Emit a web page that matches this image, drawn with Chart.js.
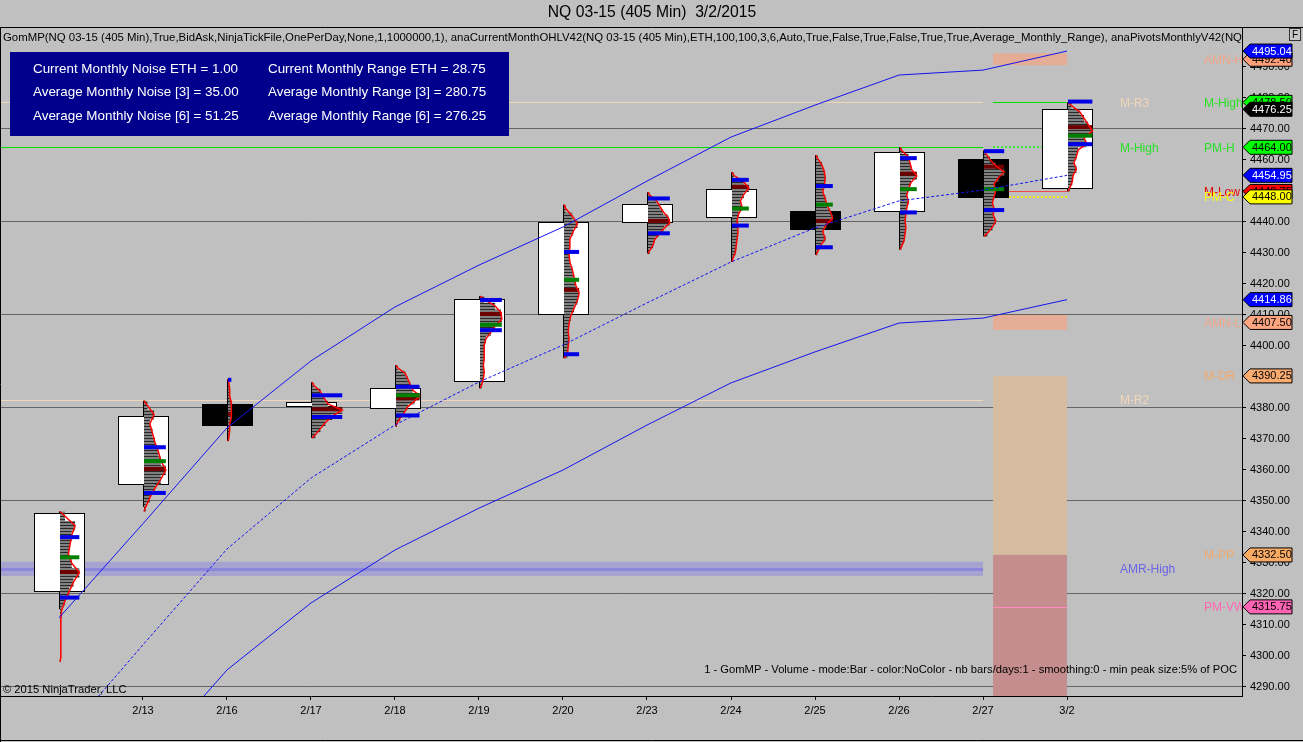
<!DOCTYPE html>
<html>
<head>
<meta charset="utf-8">
<title>NQ 03-15 (405 Min)  3/2/2015</title>
<script src="https://cdn.jsdelivr.net/npm/chart.js@4.4.1/dist/chart.umd.min.js"></script>
<style>
  html, body { margin: 0; padding: 0; background: #c0c0c0; overflow: hidden; }
  canvas { display: block; }
</style>
</head>
<body>
<canvas id="nqChart" width="1303" height="742"></canvas>
<script>
// NQ 03-15, one 405 minute bar per session
const dates  = ['2/12', '2/13', '2/16', '2/17', '2/18', '2/19', '2/20', '2/23', '2/24', '2/25', '2/26', '2/27', '3/2'];
const opens  = [4320.75, 4355.25, 4381.25, 4380.50, 4380.00, 4388.50, 4410.25, 4440.00, 4441.50, 4443.50, 4443.50, 4460.25, 4450.75];
const highs  = [4346.50, 4382.25, 4389.25, 4388.25, 4393.75, 4416.00, 4445.50, 4449.50, 4456.00, 4461.50, 4464.00, 4463.00, 4478.50];
const lows   = [4315.00, 4348.00, 4369.25, 4370.25, 4374.00, 4386.25, 4396.00, 4429.75, 4427.00, 4429.25, 4431.00, 4435.25, 4449.75];
const closes = [4346.00, 4377.25, 4374.50, 4381.75, 4386.25, 4415.00, 4439.75, 4445.75, 4450.50, 4437.75, 4462.50, 4448.00, 4476.25];

// volume profile range can run past the bar's low (tick data outside session)
const profileLows = [4298.00, 4346.50, 4369.25, 4370.25, 4374.00, 4386.25, 4396.00, 4429.75, 4427.00, 4429.25, 4431.00, 4435.25, 4449.75];

// GomMP volume per price row, top (high) to bottom (low), thousands of contracts
const vp0212 = [6, 18, 14, 12, 10, 14, 23, 16, 11, 6, 2, 1, 1, 1, 1, 1];
const vp0213 = [4, 12, 7, 10, 13, 17, 20, 26, 20, 13, 7, 2];
const vp0216 = [1, 2, 2, 4, 4, 4, 2, 2, 1];
const vp0217 = [2, 10, 14, 19, 36, 24, 16, 10, 4];
const vp0218 = [2, 11, 14, 17, 20, 28, 22, 14, 10, 5, 1];
const vp0219 = [5, 18, 25, 26, 18, 13, 7, 5, 5, 5, 4, 5, 4, 2];
const vp0220 = [2, 10, 16, 11, 7, 7, 6, 7, 10, 12, 14, 18, 16, 12, 8, 6, 5, 6, 5, 4];
const vp0223 = [2, 10, 14, 18, 24, 26, 19, 13, 8, 6, 2];
const vp0224 = [2, 14, 20, 14, 10, 12, 8, 6, 7, 7, 6, 5, 4, 1];
const vp0225 = [2, 7, 10, 11, 10, 8, 11, 13, 17, 20, 12, 8, 11, 6, 2];
const vp0226 = [2, 10, 12, 14, 20, 13, 10, 8, 10, 8, 7, 6, 7, 6, 5, 2];
const vp0227 = [2, 7, 14, 24, 17, 12, 14, 12, 10, 12, 11, 14, 10, 4];
const vp0302 = [4, 14, 19, 24, 29, 19, 22, 12, 10, 7, 10, 6, 5, 2];

const pocPrices    = [4327.00, 4360.25, 4378.00, 4379.50, 4383.00, 4410.25, 4418.00, 4440.25, 4451.25, 4440.25, 4455.50, 4457.75, 4470.50];
const greenPrices  = [4331.75, 4362.75, null, null, 4384.00, 4406.75, 4421.25, null, 4444.25, 4445.50, 4450.50, 4450.50, 4467.75];
const blueHiPrices = [4338.25, 4367.25, 4389.00, 4384.00, 4386.75, 4414.75, 4430.25, 4447.50, 4453.50, 4451.50, 4460.50, 4462.75, 4478.75];
const blueLoPrices = [4318.75, 4352.50, null, 4377.00, 4377.50, 4405.00, 4397.25, 4436.25, 4438.75, 4431.75, 4443.00, 4443.75, 4465.00];

// envelope lines
const upperBand  = [4312.20, 4342.60, 4373.50, 4395.10, 4412.50, 4426.00, 4438.30, 4453.10, 4467.30, 4477.60, 4487.30, 4488.90, 4495.04];
const middleBand = [4272.20, 4303.50, 4334.40, 4357.30, 4374.40, 4388.30, 4400.20, 4413.80, 4427.00, 4438.00, 4446.70, 4450.20, 4454.95];
const lowerBand  = [4234.00, 4264.70, 4295.40, 4317.00, 4334.10, 4347.60, 4359.90, 4374.40, 4388.00, 4398.00, 4407.30, 4408.90, 4414.86];

// previous month (Feb) levels
const prevLevelNames  = ['M-R3', 'M-High', 'M-R2', 'AMR-High'];
const prevLevelPrices = [4478.50, 4464.00, 4382.50, 4328.00];

// current month (Mar) levels
const curLevelNames  = ['AMN-H', 'M-High', 'PM-H', 'M-Low', 'PM-C', 'AMN-L', 'M-DR', 'M-PP', 'PM-VWAP'];
const curLevelPrices = [4492.40, 4478.50, 4464.00, 4449.75, 4448.00, 4407.50, 4390.25, 4332.50, 4315.75];

const yTicks = [4290, 4300, 4310, 4320, 4330, 4340, 4350, 4360, 4370, 4380, 4390, 4400,
                4410, 4420, 4430, 4440, 4450, 4460, 4470, 4480, 4490];

const statsLeft  = ['Current Monthly Noise ETH = 1.00', 'Average Monthly Noise [3] = 35.00', 'Average Monthly Noise [6] = 51.25'];
const statsRight = ['Current Monthly Range ETH = 28.75', 'Average Monthly Range [3] = 280.75', 'Average Monthly Range [6] = 276.25'];

const volumeProfiles = [vp0212, vp0213, vp0216, vp0217, vp0218, vp0219, vp0220, vp0223, vp0224, vp0225, vp0226, vp0227, vp0302];

const FONT = '"Liberation Sans", Arial, sans-serif';
const VOL_PER_BAR = 100;      // volume that would fill one bar spacing
const MONTH_START = 11.12;    // where March levels begin on the x scale
const LAST_FEB = 11;

const prevLevelStyles = [
    { line: 'rgb(242,214,186)', label: 'rgb(242,214,186)' },
    { line: 'rgb(0,225,0)', label: 'rgb(40,225,40)' },
    { line: 'rgb(242,214,186)', label: 'rgb(242,214,186)' },
    { band: 'rgba(120,110,240,0.35)', half: 2.3, line: 'rgba(110,100,235,0.45)', width: 3, label: 'rgb(110,100,230)' }
];
const curLevelStyles = [
    { band: 'rgba(255,160,122,0.6)', half: 1.9, label: 'rgb(240,165,135)', tag: 'rgb(255,160,122)', tagText: '#000' },
    { line: 'rgb(0,225,0)', label: 'rgb(40,225,40)', tag: 'rgb(0,255,0)', tagText: '#000' },
    { line: 'rgb(60,230,60)', width: 2, dash: [2, 2], label: 'rgb(40,225,40)', tag: 'rgb(0,255,0)', tagText: '#000' },
    { line: 'rgb(240,70,70)', label: 'rgb(230,0,0)', tag: 'rgb(255,0,0)', tagText: '#000' },
    { line: 'rgb(240,240,0)', width: 2, dash: [2, 2], label: 'rgb(255,255,0)', tag: 'rgb(255,255,0)', tagText: '#000' },
    { band: 'rgba(255,160,122,0.6)', half: 2.4, label: 'rgb(240,165,135)', tag: 'rgb(255,165,128)', tagText: '#000' },
    { box: 'rgb(214,187,160)', label: 'rgb(240,170,110)', tag: 'rgb(250,172,112)', tagText: '#000' },
    { box: 'rgb(197,141,141)', label: 'rgb(240,170,110)', tag: 'rgb(250,172,100)', tagText: '#000' },
    { line: 'rgb(255,140,190)', label: 'rgb(255,105,180)', tag: 'rgb(255,100,180)', tagText: '#000' }
];

function hLine(ctx, x1, x2, yPx, color, width, dash) {
    ctx.save();
    ctx.strokeStyle = color;
    ctx.lineWidth = width || 1;
    ctx.setLineDash(dash || []);
    const yy = (width || 1) % 2 ? Math.round(yPx) + 0.5 : Math.round(yPx);
    ctx.beginPath();
    ctx.moveTo(x1, yy);
    ctx.lineTo(x2, yy);
    ctx.stroke();
    ctx.restore();
}

function drawLevels(chart) {
    const { ctx, chartArea, scales: { x, y } } = chart;
    const prevEnd = x.getPixelForValue(LAST_FEB);
    const curStart = x.getPixelForValue(MONTH_START);
    const curEnd = x.getPixelForValue(dates.length - 1);

    // boxes first (developing range and the zone below it)
    curLevelNames.forEach((name, k) => {
        const st = curLevelStyles[k];
        if (!st.box) return;
        const top = y.getPixelForValue(curLevelPrices[k]);
        const nextBox = curLevelStyles.findIndex((s, j) => j > k && s.box);
        const bottom = nextBox > 0 ? y.getPixelForValue(curLevelPrices[nextBox]) : chartArea.bottom;
        ctx.fillStyle = st.box;
        ctx.fillRect(curStart, top, curEnd - curStart, bottom - top);
    });

    prevLevelNames.forEach((name, k) => {
        const st = prevLevelStyles[k];
        const py = y.getPixelForValue(prevLevelPrices[k]);
        if (st.band) {
            const t = y.getPixelForValue(prevLevelPrices[k] + st.half);
            const b = y.getPixelForValue(prevLevelPrices[k] - st.half);
            ctx.fillStyle = st.band;
            ctx.fillRect(chartArea.left, t, prevEnd - chartArea.left, b - t);
        }
        if (st.line) hLine(ctx, chartArea.left, prevEnd, py, st.line, st.width, st.dash);
    });

    curLevelNames.forEach((name, k) => {
        const st = curLevelStyles[k];
        const py = y.getPixelForValue(curLevelPrices[k]);
        if (st.band) {
            const t = y.getPixelForValue(curLevelPrices[k] + st.half);
            const b = y.getPixelForValue(curLevelPrices[k] - st.half);
            ctx.fillStyle = st.band;
            ctx.fillRect(curStart, t, curEnd - curStart, b - t);
        }
        if (st.line) hLine(ctx, curStart, curEnd, py, st.line, st.width, st.dash);
    });
}

function drawProfile(ctx, x, y, i) {
    const vols = volumeProfiles[i];
    const n = vols.length;
    const top = y.getPixelForValue(highs[i]);
    const bot = y.getPixelForValue(profileLows[i]);
    const rowH = (bot - top) / n;
    const pxPerVol = (x.getPixelForValue(1) - x.getPixelForValue(0)) / VOL_PER_BAR;
    const x0 = Math.round(x.getPixelForValue(i)) + 1;
    const maxW = Math.max(...vols) * pxPerVol;

    ctx.fillStyle = 'rgb(128,128,128)';
    vols.forEach((v, k) => ctx.fillRect(x0, top + k * rowH, v * pxPerVol, rowH + 0.5));

    // bar separators
    ctx.strokeStyle = 'rgba(25,25,25,0.85)';
    ctx.lineWidth = 1;
    for (let yy = top + 1; yy < bot; yy += 3) {
        const k = Math.min(n - 1, Math.floor((yy - top) / rowH));
        const ly = Math.round(yy) + 0.5;
        ctx.beginPath();
        ctx.moveTo(x0, ly);
        ctx.lineTo(x0 + vols[k] * pxPerVol, ly);
        ctx.stroke();
    }

    const mark = (price, color) => {
        if (price == null) return;
        const py = y.getPixelForValue(price);
        ctx.fillStyle = color;
        ctx.fillRect(x0, py - 2, maxW, 4);
    };
    mark(pocPrices[i], 'rgb(110,0,0)');

    ctx.strokeStyle = 'rgb(255,0,0)';
    ctx.lineWidth = 1.5;
    ctx.beginPath();
    ctx.moveTo(x0, top);
    vols.forEach((v, k) => ctx.lineTo(x0 + v * pxPerVol, top + (k + 0.5) * rowH));
    ctx.lineTo(x0, bot);
    ctx.stroke();

    mark(greenPrices[i], 'rgb(0,128,0)');
    mark(blueHiPrices[i], 'rgb(0,0,230)');
    mark(blueLoPrices[i], 'rgb(0,0,230)');
}

const barsPlugin = {
    id: 'barsAndProfiles',
    beforeDatasetsDraw(chart) {
        const { ctx, chartArea, scales: { x, y } } = chart;
        ctx.save();
        ctx.beginPath();
        ctx.rect(chartArea.left, chartArea.top, chartArea.width, chartArea.height);
        ctx.clip();

        drawLevels(chart);

        const barPx = x.getPixelForValue(1) - x.getPixelForValue(0);
        const halfBody = barPx * 25 / 84;
        dates.forEach((d, i) => {
            const cx = Math.round(x.getPixelForValue(i)) + 0.5;
            ctx.strokeStyle = '#000';
            ctx.lineWidth = 1;
            ctx.beginPath();
            ctx.moveTo(cx, y.getPixelForValue(highs[i]));
            ctx.lineTo(cx, y.getPixelForValue(lows[i]));
            ctx.stroke();

            const oy = y.getPixelForValue(opens[i]);
            const cy = y.getPixelForValue(closes[i]);
            const t = Math.round(Math.min(oy, cy)) + 0.5;
            const b = Math.round(Math.max(oy, cy)) + 0.5;
            const l = Math.round(cx - halfBody) + 0.5;
            const w = Math.round(halfBody * 2);
            ctx.fillStyle = closes[i] >= opens[i] ? '#ffffff' : '#000000';
            ctx.fillRect(l, t, w, b - t);
            ctx.strokeRect(l, t, w, b - t);
        });

        dates.forEach((d, i) => drawProfile(ctx, x, y, i));
        ctx.restore();
    }
};

function drawTag(ctx, axisX, py, bg, fg, text) {
    const h = 14, tip = 7, w = 50;
    ctx.beginPath();
    ctx.moveTo(axisX + 1, py);
    ctx.lineTo(axisX + 1 + tip, py - h / 2);
    ctx.lineTo(axisX + w, py - h / 2);
    ctx.lineTo(axisX + w, py + h / 2);
    ctx.lineTo(axisX + 1 + tip, py + h / 2);
    ctx.closePath();
    ctx.fillStyle = bg;
    ctx.fill();
    ctx.strokeStyle = '#000';
    ctx.lineWidth = 1;
    ctx.stroke();
    ctx.fillStyle = fg;
    ctx.font = '11px ' + FONT;
    ctx.textAlign = 'left';
    ctx.textBaseline = 'middle';
    ctx.fillText(text, axisX + 10, py + 0.5);
}

const overlayPlugin = {
    id: 'overlay',
    beforeDraw(chart) {
        const { ctx, width, height } = chart;
        ctx.save();
        ctx.fillStyle = '#c0c0c0';
        ctx.fillRect(0, 0, width, height);
        ctx.restore();
    },
    afterDraw(chart) {
        const { ctx, chartArea, width, height, scales: { x, y } } = chart;
        ctx.save();

        // frame
        ctx.strokeStyle = '#000';
        ctx.lineWidth = 1;
        ctx.beginPath();
        ctx.moveTo(0, Math.round(chartArea.top) + 0.5);
        ctx.lineTo(width, Math.round(chartArea.top) + 0.5);
        ctx.moveTo(0.5, chartArea.top);
        ctx.lineTo(0.5, height);
        ctx.moveTo(0, height - 1.5);
        ctx.lineTo(width, height - 1.5);
        ctx.stroke();

        // texts inside the price panel
        ctx.save();
        ctx.beginPath();
        ctx.rect(chartArea.left, chartArea.top, chartArea.width, chartArea.height);
        ctx.clip();

        ctx.fillStyle = '#000';
        ctx.font = '11.4px ' + FONT;
        ctx.textBaseline = 'middle';
        ctx.textAlign = 'left';
        ctx.fillText('GomMP(NQ 03-15 (405 Min),True,BidAsk,NinjaTickFile,OnePerDay,None,1,1000000,1), anaCurrentMonthOHLV42(NQ 03-15 (405 Min),ETH,100,100,3,6,Auto,True,False,True,False,True,True,Average_Monthly_Range), anaPivotsMonthlyV42(NQ 03-15 (405 Min))', 3, chartArea.top + 11);

        ctx.fillStyle = 'rgb(0,0,140)';
        ctx.fillRect(10, 52, 499, 84);
        ctx.fillStyle = '#fff';
        ctx.font = '13.4px ' + FONT;
        statsLeft.forEach((t, r) => ctx.fillText(t, 33, 69 + r * 23.5));
        statsRight.forEach((t, r) => ctx.fillText(t, 268, 69 + r * 23.5));

        ctx.font = '12px ' + FONT;
        prevLevelNames.forEach((name, k) => {
            ctx.fillStyle = prevLevelStyles[k].label;
            ctx.fillText(name, x.getPixelForValue(12.63), y.getPixelForValue(prevLevelPrices[k]) + 1);
        });
        curLevelNames.forEach((name, k) => {
            ctx.fillStyle = curLevelStyles[k].label;
            ctx.fillText(name, x.getPixelForValue(13.63), y.getPixelForValue(curLevelPrices[k]) + 1);
        });

        ctx.fillStyle = '#000';
        ctx.font = '11.2px ' + FONT;
        ctx.textAlign = 'right';
        ctx.fillText('1 - GomMP - Volume - mode:Bar - color:NoColor - nb bars/days:1 - smoothing:0 - min peak size:5% of POC', chartArea.right - 5, chartArea.bottom - 26);
        ctx.textAlign = 'left';
        ctx.fillText('\u00A9 2015 NinjaTrader, LLC', 3, chartArea.bottom - 6);
        ctx.restore();

        // price markers on the axis
        const axisX = chartArea.right;
        const last = dates.length - 1;
        const tag = (price, bg, fg) => drawTag(ctx, axisX, y.getPixelForValue(price), bg, fg, price.toFixed(2));
        const curTag = name => {
            const k = curLevelNames.indexOf(name);
            tag(curLevelPrices[k], curLevelStyles[k].tag, curLevelStyles[k].tagText);
        };
        curTag('AMN-H');
        tag(upperBand[last], 'rgb(0,0,255)', '#fff');
        curTag('M-High');
        tag(closes[last], '#000', '#fff');
        curTag('PM-H');
        tag(middleBand[last], 'rgb(0,0,255)', '#fff');
        curTag('M-Low');
        curTag('PM-C');
        tag(lowerBand[last], 'rgb(0,0,255)', '#fff');
        curTag('AMN-L');
        curTag('M-DR');
        curTag('M-PP');
        curTag('PM-VWAP');

        // "F" button
        ctx.strokeStyle = '#333';
        ctx.fillStyle = '#c8c8c8';
        ctx.fillRect(1289.5, chartArea.top + 1.5, 11, 12);
        ctx.strokeRect(1289.5, chartArea.top + 1.5, 11, 12);
        ctx.fillStyle = '#000';
        ctx.font = '10px ' + FONT;
        ctx.textAlign = 'center';
        ctx.textBaseline = 'middle';
        ctx.fillText('F', 1295, chartArea.top + 8);

        ctx.restore();
    }
};

const bandPoints = arr => arr.map((v, i) => ({ x: i, y: v }));

new Chart(document.getElementById('nqChart'), {
    type: 'line',
    data: {
        datasets: [
            { data: bandPoints(upperBand), borderColor: 'rgb(20,20,240)', borderWidth: 1, pointRadius: 0, tension: 0 },
            { data: bandPoints(middleBand), borderColor: 'rgb(20,20,240)', borderWidth: 1, borderDash: [3, 2], pointRadius: 0, tension: 0 },
            { data: bandPoints(lowerBand), borderColor: 'rgb(20,20,240)', borderWidth: 1, pointRadius: 0, tension: 0 }
        ]
    },
    options: {
        responsive: false,
        animation: false,
        devicePixelRatio: 1,
        layout: { padding: { left: 1, right: 0, top: 0, bottom: 0 } },
        plugins: {
            legend: { display: false },
            tooltip: { enabled: false },
            title: {
                display: true,
                text: 'NQ 03-15 (405 Min)  3/2/2015',
                color: '#000',
                font: { family: FONT, size: 15.7, weight: 'normal', lineHeight: 1.15 },
                padding: { top: 4, bottom: 4.95 }
            }
        },
        scales: {
            x: {
                type: 'linear',
                min: -0.69,
                max: 14.083,
                afterBuildTicks: s => { s.ticks = dates.map((d, i) => ({ value: i })).slice(1); },
                afterFit: s => { s.height = 46; },
                ticks: {
                    autoSkip: false,
                    maxRotation: 0,
                    padding: 4,
                    color: '#000',
                    font: { family: FONT, size: 11 },
                    callback: v => dates[v] ?? ''
                },
                grid: { drawOnChartArea: false, drawTicks: true, tickLength: 4, tickColor: '#000' },
                border: { display: true, color: '#000', width: 1 }
            },
            y: {
                position: 'right',
                min: 4287.0,
                max: 4502.8,
                afterBuildTicks: s => { s.ticks = yTicks.map(v => ({ value: v })); },
                afterFit: s => { s.width = 61; },
                ticks: {
                    padding: 4,
                    color: '#000',
                    font: { family: FONT, size: 11 },
                    callback: v => Number(v).toFixed(2)
                },
                grid: {
                    color: c => (c.tick && (c.tick.value - 4290) % 30 === 0) ? 'rgb(100,100,100)' : 'rgba(0,0,0,0)',
                    tickLength: 4,
                    tickColor: '#000'
                },
                border: { display: true, color: '#000', width: 1 }
            }
        }
    },
    plugins: [overlayPlugin, barsPlugin]
});
</script>
</body>
</html>
